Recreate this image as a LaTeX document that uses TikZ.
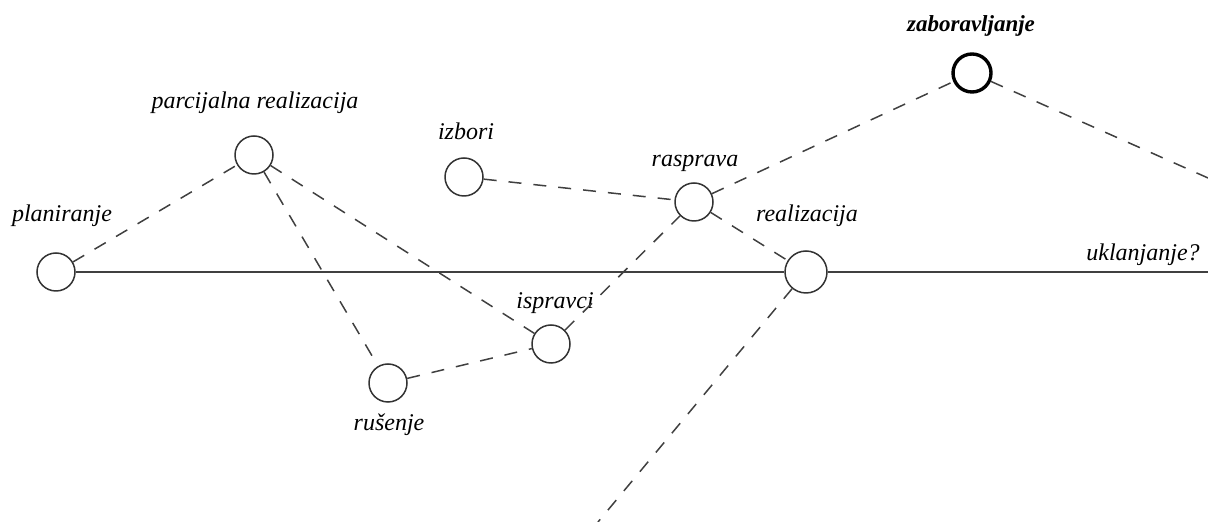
\documentclass[tikz,border=0pt]{standalone}
\usepackage{fontspec}
\setmainfont{Liberation Serif}
\begin{document}
\begin{tikzpicture}[x=0.5pt,y=-0.5pt,
  st/.style={circle,draw=black!80,line width=0.75pt,minimum size=19pt,inner sep=0pt},
  big/.style={st,minimum size=21pt},
  bold/.style={st,line width=1.7pt,draw=black},
  lbl/.style={font=\fontsize{12pt}{14pt}\selectfont\itshape,inner sep=0pt},
  dsh/.style={draw=black!75,line width=0.75pt,dash pattern=on 6.5pt off 6pt},
  sol/.style={draw=black!75,line width=0.75pt}]
\useasboundingbox (0,0) rectangle (1208,522);
\node[st] (plan) at (56,272) {};
\node[st] (parc) at (254,155) {};
\node[st] (izb) at (464,177) {};
\node[st] (ras) at (694,202) {};
\node[bold] (zab) at (972,73) {};
\node[big] (real) at (806,272) {};
\node[st] (isp) at (551,344) {};
\node[st] (rus) at (388,383) {};
\coordinate (zabend) at (1208,178);
\coordinate (realend) at (598,522);
\coordinate (solend) at (1208,272);
\node[lbl] (lplan) at (62,216) {planiranje};
\node[lbl] (lparc) at (255,103) {parcijalna realizacija};
\node[lbl] (lizb) at (466,131) {izbori};
\node[lbl] (lras) at (695,163) {rasprava};
\node[lbl,font=\fontsize{11.5pt}{14pt}\selectfont\bfseries\itshape] (lzab) at (971,26) {zaboravljanje};
\node[lbl] (lreal) at (807,216) {realizacija};
\node[lbl] (lukl) at (1143,255) {uklanjanje?};
\node[lbl] (lisp) at (555,303) {ispravci};
\node[lbl] (lrus) at (389,425) {rušenje};
\draw[sol] (plan) -- (real);
\draw[sol] (real) -- (solend);
\draw[dsh] (plan) -- (parc);
\draw[dsh] (parc) -- (rus);
\draw[dsh] (parc) -- (isp);
\draw[dsh] (rus) -- (isp);
\draw[dsh] (isp) -- (ras);
\draw[dsh] (izb) -- (ras);
\draw[dsh] (ras) -- (real);
\draw[dsh] (ras) -- (zab);
\draw[dsh] (zab) -- (zabend);
\draw[dsh] (real) -- (realend);
\end{tikzpicture}
\end{document}
